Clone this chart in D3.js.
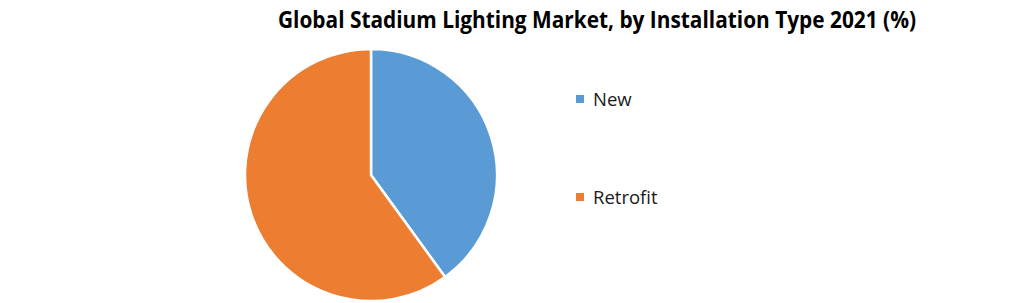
<!DOCTYPE html>
<html>
<head>
<meta charset="utf-8">
<script src="https://cdn.jsdelivr.net/npm/d3@7"></script>
<style>
  body { margin: 0; background: #fff; }
  text { font-family: "Open Sans", "Noto Sans", sans-serif; }
</style>
</head>
<body>
<div id="svgcontainer"></div>
<script>
// chart data
var categories = ["New", "Retrofit"];
var values = [40, 60];
var colors = ["#5b9bd5", "#ed7d31"];
var title = "Global Stadium Lighting Market, by Installation Type 2021 (%)";

var width = 1020, height = 303;
var cx = 371, cy = 175, r = 126;

var svg = d3.select("#svgcontainer")
    .append("svg")
    .attr("width", width)
    .attr("height", height);

// title
svg.append("text")
  .attr("x", 597)
  .attr("y", 28)
  .attr("text-anchor", "middle")
  .style("font-size", "23px")
  .style("font-weight", "bold")
  .attr("textLength", 638)
  .attr("lengthAdjust", "spacingAndGlyphs")
  .text(title);

// pie
var pie = d3.pie().sort(null).value(function(d){ return d; });
var arc = d3.arc().innerRadius(0).outerRadius(r);

var color = d3.scaleOrdinal().domain(categories).range(colors);

svg.append("g")
  .attr("transform", "translate(" + cx + "," + cy + ")")
  .selectAll("path")
  .data(pie(values))
  .enter()
  .append("path")
  .attr("d", arc)
  .attr("fill", function(d, i){ return color(categories[i]); })
  .attr("stroke", "#fff")
  .attr("stroke-width", 2.5);

// legend
var legendY = d3.scalePoint().domain(categories).range([99, 197]);

var lg = svg.append("g")
  .selectAll("g")
  .data(categories)
  .enter()
  .append("g")
  .attr("transform", function(d){ return "translate(576," + legendY(d) + ")"; });

lg.append("rect")
  .attr("x", 0)
  .attr("y", -4)
  .attr("width", 8)
  .attr("height", 8)
  .attr("fill", function(d){ return color(d); });

lg.append("text")
  .attr("x", 17)
  .attr("y", 7)
  .style("font-size", "18.5px")
  .style("fill", "#1a1a1a")
  .text(function(d){ return d; });
</script>
</body>
</html>
